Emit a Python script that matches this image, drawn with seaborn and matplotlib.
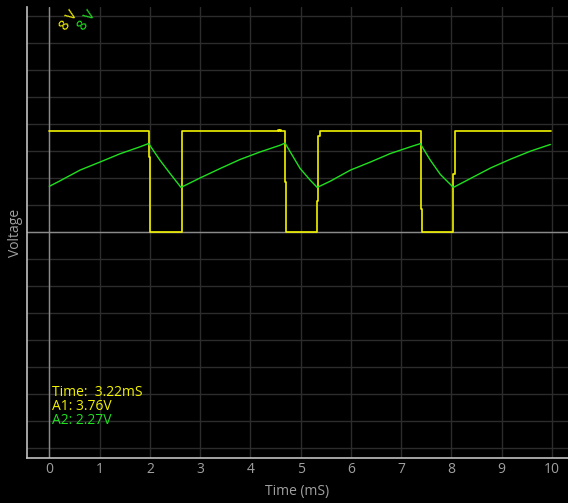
import matplotlib
matplotlib.use("Agg")
import matplotlib.pyplot as plt
import seaborn as sns
import pandas as pd

# channel A1 (yellow) - change points of the square wave, time in mS
yel_t = [0.0, 1.99, 2.01, 2.635, 2.647, 4.55, 4.57, 4.59, 4.61, 4.69, 4.71,
         5.333, 5.353, 5.381, 7.391, 7.411, 8.040, 8.068, 9.98]
yel_v = [3.73, 2.79, 0.0, 0.27, 3.73, 3.77, 3.73, 3.77, 3.73, 1.87, 0.0,
         1.17, 3.58, 3.73, 0.86, 0.0, 2.16, 3.73, 3.73]

# channel A2 (green) - capacitor voltage
grn_t = [0.0, 0.21, 0.61, 1.01, 1.40, 1.80, 1.97, 2.00, 2.20, 2.40, 2.62,
         3.00, 3.40, 3.79, 4.19, 4.59, 4.69, 4.99, 5.19, 5.33, 5.59, 5.99,
         6.39, 6.78, 7.18, 7.38, 7.58, 7.78, 8.04, 8.38, 8.78, 9.17, 9.57, 9.97]
grn_v = [1.70, 1.90, 2.30, 2.60, 2.90, 3.16, 3.28, 3.22, 2.67, 2.18, 1.66,
         2.01, 2.36, 2.69, 2.97, 3.22, 3.30, 2.36, 1.93, 1.66, 1.89, 2.30,
         2.60, 2.91, 3.16, 3.28, 2.67, 2.14, 1.66, 1.99, 2.38, 2.70, 3.00, 3.25]

x_ticks = list(range(0, 11))
y_grid = list(range(-8, 9))
scale_labels = ["8 V", "8 V"]
readout = ["Time:  3.22mS", "A1: 3.76V", "A2: 2.27V"]

YEL = "#f2f200"
GRN = "#1fe01f"

sns.set_style("dark", {"axes.facecolor": "black", "figure.facecolor": "black"})
plt.rcParams["font.family"] = ["Open Sans", "DejaVu Sans"]

fig = plt.figure(figsize=(5.68, 5.03), dpi=100)
ax = fig.add_axes([27 / 568, 1 - 458 / 503, 541 / 568, 451 / 503])
ax.set_facecolor("black")

df_y = pd.DataFrame({"t": yel_t, "v": yel_v})
df_g = pd.DataFrame({"t": grn_t, "v": grn_v})

# grid + zero lines
ax.set_xticks(x_ticks)
ax.set_yticks(y_grid)
ax.grid(True, color="#2c2c2c", lw=1)
ax.axhline(0, color="#8a8a8a", lw=1, zorder=1)
ax.axvline(0, color="#8a8a8a", lw=1, zorder=1)

sns.lineplot(data=df_g, x="t", y="v", ax=ax, color=GRN, lw=1.0,
             estimator=None, zorder=3)
sns.lineplot(data=df_y, x="t", y="v", ax=ax, color=YEL, lw=1.2,
             estimator=None, drawstyle="steps-post", zorder=2)

ax.set_xlim(-0.444, 10.32)
ax.set_ylim(-8.36, 8.34)

ax.set_yticklabels([])
ax.tick_params(axis="both", length=0)
ax.tick_params(axis="x", colors="#a0a0a0", labelsize=10, pad=3)

for s in ["top", "right"]:
    ax.spines[s].set_visible(False)
for s in ["left", "bottom"]:
    ax.spines[s].set_visible(True)
    ax.spines[s].set_color("#c0c0c0")
    ax.spines[s].set_linewidth(1.2)

ax.set_xlabel("Time (mS)", color="#a0a0a0", fontsize=10)
ax.set_ylabel("Voltage", color="#a0a0a0", fontsize=10)
ax.xaxis.set_label_coords(0.5, -0.058)
ax.yaxis.set_label_coords(-0.007, 0.5)

# rotated scale labels at the top
ax.text(0.40, 7.83, scale_labels[0], color=YEL, fontsize=10.5, rotation=55,
        ha="center", va="center")
ax.text(0.75, 7.83, scale_labels[1], color=GRN, fontsize=10.5, rotation=55,
        ha="center", va="center")

# cursor readout
ax.text(0.06, -5.95, readout[0], color=YEL, fontsize=10, va="center")
ax.text(0.06, -6.47, readout[1], color=YEL, fontsize=10, va="center")
ax.text(0.06, -6.97, readout[2], color=GRN, fontsize=10, va="center")

fig.savefig("out.png", dpi=100, facecolor="black")
